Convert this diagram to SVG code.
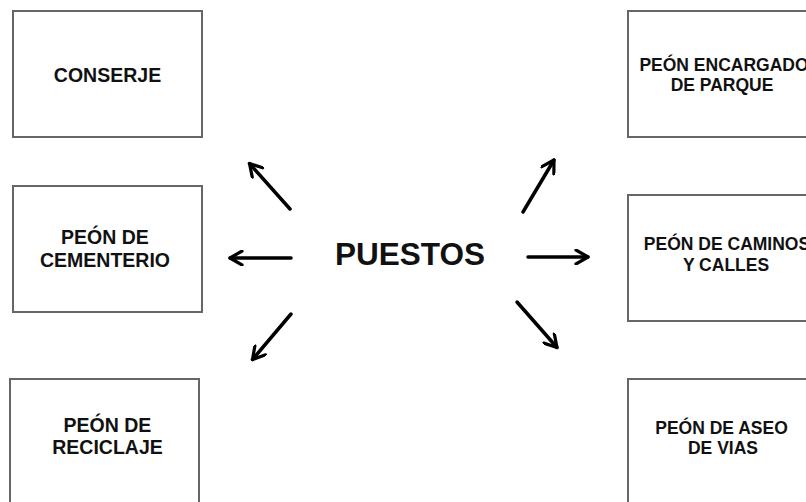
<svg xmlns="http://www.w3.org/2000/svg" width="806" height="502" viewBox="0 0 806 502">
  <style>
    .box { fill: #ffffff; stroke: #666666; stroke-width: 2; }
    .lbl { font-family: "Liberation Sans", Arial, sans-serif; font-weight: bold; fill: #111111; text-anchor: middle; }
    .l { font-size: 19.5px; }
    .r { font-size: 17.5px; }
    .hub { font-size: 31.5px; }
    .arr { fill: none; stroke: #000000; stroke-width: 3.5; stroke-linecap: round; marker-end: url(#ah); }
  </style>
  <defs>
    <marker id="ah" viewBox="0 0 16 16" refX="14" refY="8" markerWidth="16" markerHeight="16" markerUnits="userSpaceOnUse" orient="auto">
      <path d="M2,1 L14,8 L2,15" fill="none" stroke="#000000" stroke-width="3.2" stroke-linecap="round" stroke-linejoin="round"/>
    </marker>
  </defs>
  <rect x="0" y="0" width="806" height="502" fill="#ffffff"/>

  <g id="conserje">
    <rect class="box" x="13" y="11" width="189" height="126"/>
    <text class="lbl l" x="107.5" y="82">CONSERJE</text>
  </g>
  <g id="cementerio">
    <rect class="box" x="13" y="186" width="189" height="126"/>
    <text class="lbl l" x="105" y="244">PEÓN DE</text>
    <text class="lbl l" x="105" y="266.5">CEMENTERIO</text>
  </g>
  <g id="reciclaje">
    <rect class="box" x="10" y="379" width="189" height="140"/>
    <text class="lbl l" x="107.5" y="432">PEÓN DE</text>
    <text class="lbl l" x="107.5" y="454">RECICLAJE</text>
  </g>
  <g id="parque">
    <rect class="box" x="628" y="11" width="200" height="126"/>
    <text class="lbl r" x="724" y="70.5">PEÓN ENCARGADO</text>
    <text class="lbl r" x="722" y="90.5">DE PARQUE</text>
  </g>
  <g id="caminos">
    <rect class="box" x="628" y="195" width="200" height="126"/>
    <text class="lbl r" x="727" y="250">PEÓN DE CAMINOS</text>
    <text class="lbl r" x="726" y="270.5">Y CALLES</text>
  </g>
  <g id="aseo">
    <rect class="box" x="628" y="379" width="200" height="140"/>
    <text class="lbl r" x="721.5" y="433.5">PEÓN DE ASEO</text>
    <text class="lbl r" x="723" y="454">DE VIAS</text>
  </g>
  <g id="puestos">
    <text class="lbl hub" x="410" y="265">PUESTOS</text>
  </g>

  <g id="connectors">
    <path class="arr" d="M290,209 L249.5,163.5"/>
    <path class="arr" d="M523,212 L554,160"/>
    <path class="arr" d="M291,258 L230,258"/>
    <path class="arr" d="M528,257 L588,257"/>
    <path class="arr" d="M291,314 L252.5,359.5"/>
    <path class="arr" d="M517,302 L557,347.5"/>
  </g>
</svg>
